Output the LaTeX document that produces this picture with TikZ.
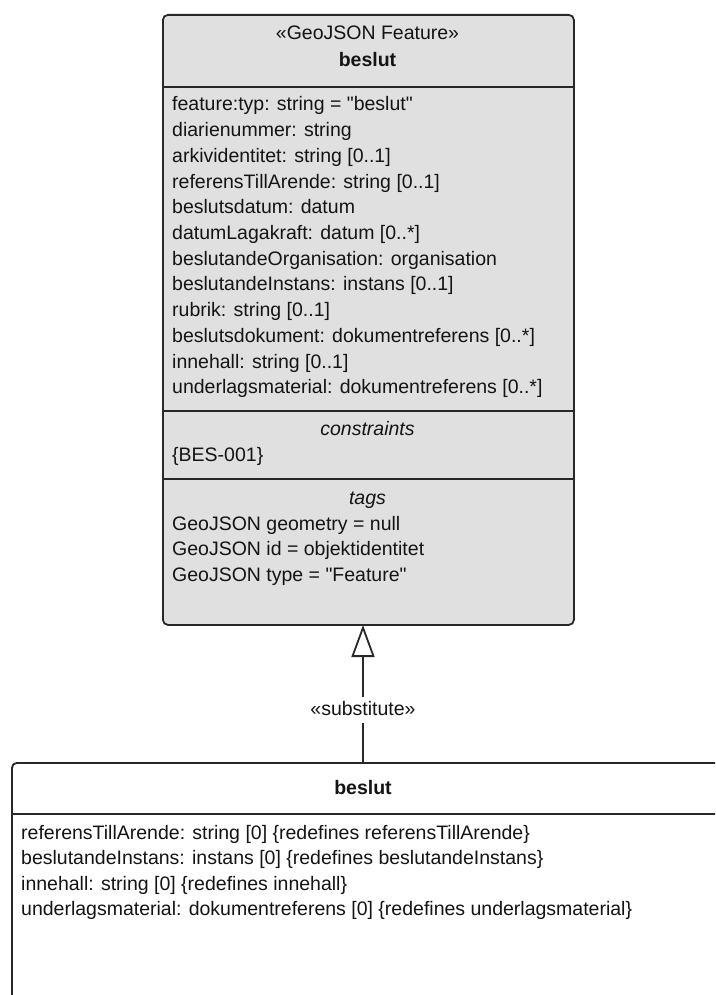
\documentclass[tikz,border=0pt]{standalone}
\usepackage{fontspec}
\setmainfont{Liberation Sans}[Ligatures=TeXOff]
\usetikzlibrary{arrows.meta}
\definecolor{umlgray}{RGB}{224,224,224}
\definecolor{linec}{RGB}{40,40,40}
\definecolor{textc}{RGB}{20,20,20}
\begin{document}
\begin{tikzpicture}[x=1pt,y=-1pt,
  txt/.style={font=\fontsize{19.5}{23}\selectfont, text=textc, inner sep=0pt, text height=14pt, text depth=4pt},
  txtb/.style={txt, font=\fontsize{19.5}{23}\selectfont\bfseries},
  txti/.style={txt, font=\fontsize{19.5}{23}\selectfont\itshape},
  attr/.style={txt, anchor=west},
  umlbox/.style={draw=linec, line width=1.8pt, rounded corners=5pt, inner sep=0pt, anchor=north west},
  sep/.style={draw=linec, line width=1.8pt},
  conn/.style={draw=linec, line width=1.8pt},
]
\useasboundingbox (0,0) rectangle (715,995);
\clip (0,0) rectangle (715,995);
\fill[white] (0,0) rectangle (715,995);

% top class
\node[umlbox, fill=umlgray, minimum width=411pt, minimum height=610pt] (feat) at (162,14) {};
\draw[sep] (feat.west |- 0,87) -- (feat.east |- 0,87);
\draw[sep] (feat.west |- 0,411) -- (feat.east |- 0,411);
\draw[sep] (feat.west |- 0,479) -- (feat.east |- 0,479);

\node[txt] (stereo) at (367.5,35) {«GeoJSON Feature»};
\node[txtb] (fname) at (367.5,62) {beslut};

\foreach \t [count=\i from 0] in {
  feature:typ: string = "beslut",
  diarienummer: string,
  arkividentitet: string [0..1],
  referensTillArende: string [0..1],
  beslutsdatum: datum,
  datumLagakraft: datum [0..*],
  beslutandeOrganisation: organisation,
  beslutandeInstans: instans [0..1],
  rubrik: string [0..1],
  beslutsdokument: dokumentreferens [0..*],
  innehall: string [0..1],
  underlagsmaterial: dokumentreferens [0..*]}
  \node[attr] (fa\i) at (172,{106+25.7*\i}) {\t};

\node[txti] (cons) at (367.5,430) {constraints};
\node[attr] (c1) at (172,456) {\{BES-001\}};

\node[txti] (tags) at (367.5,499) {tags};
\node[attr] (t1) at (172,525) {GeoJSON geometry = null};
\node[attr] (t2) at (172,550.5) {GeoJSON id = objektidentitet};
\node[attr] (t3) at (172,576) {GeoJSON type = "Feature"};

% bottom class
\node[umlbox, fill=white, minimum width=740pt, minimum height=270pt] (sub) at (11,762) {};
\draw[sep] (sub.west |- 0,814) -- (730,814);
\node[txtb] (sname) at (363,789) {beslut};
\foreach \t [count=\i from 0] in {
  referensTillArende: string [0] \{redefines referensTillArende\},
  beslutandeInstans: instans [0] \{redefines beslutandeInstans\},
  innehall: string [0] \{redefines innehall\},
  underlagsmaterial: dokumentreferens [0] \{redefines underlagsmaterial\}}
  \node[attr] (sa\i) at (21,{834+25.6*\i}) {\t};

% substitution connector
\coordinate (cs) at (363,762);
\coordinate (ct) at (363,625);
\draw[conn, -{Triangle[open, length=32pt, width=23pt, line width=1.8pt]}] (cs) -- (ct);
\node[txt, fill=white, inner ysep=4pt, inner xsep=1pt] (lbl) at (363,710) {«substitute»};
\end{tikzpicture}
\end{document}
